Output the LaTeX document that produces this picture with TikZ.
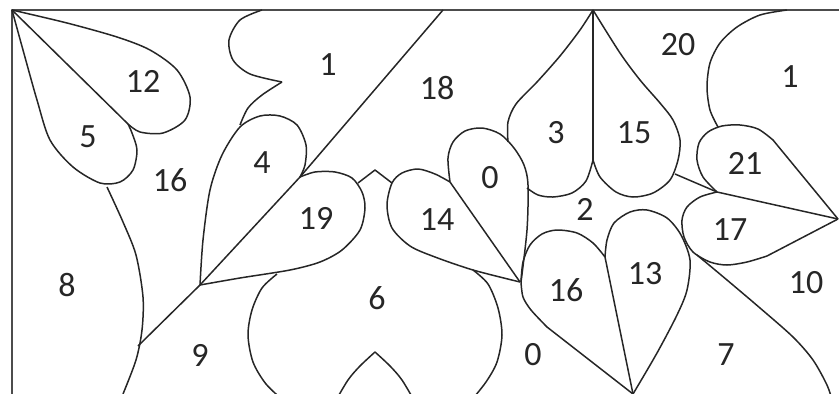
\documentclass[tikz,border=0pt]{standalone}
\usepackage{fontspec}
\setmainfont{Carlito}

\begin{document}
\begin{tikzpicture}[x=1pt,y=-1pt]
    \useasboundingbox (0,0) rectangle (839,394);
    \clip (0,0) rectangle (839,394);

    \begin{scope}[line width=1.5pt,color=black!85,line join=round]

        % frame
        \draw [line width=2pt,black!70] (839,10) -- (12,10) -- (12,394);

        % leaves 12 and 5 in the corner
        \draw (12,10) -- (128,124);
        \draw plot [smooth] coordinates {(12,10) (67,23) (117,37) (150,50) (177,70) (190,97) (185,120) (163,133) (140,132) (128,124)};
        \draw plot [smooth] coordinates {(12,10) (23,50) (37,100) (50,140) (73,167) (100,183) (120,182) (133,170) (137,150) (132,133) (128,124)};
        \draw plot [smooth] coordinates {(107,187) (123,222) (136,255) (143,297) (142,330) (136,360) (123,394)};

        % long diagonal
        \draw (138,346) -- (200,285) -- (300,177) -- (443,10);

        % leaf 4, shape 1
        \draw plot [smooth] coordinates {(200,285) (203,240) (210,190) (222,155) (240,127) (260,116) (280,116) (297,125) (306,145) (305,165) (300,177)};
        \draw plot [smooth] coordinates {(262,10) (240,20) (229,40) (233,60) (250,74) (282,82)};
        \draw plot [smooth] coordinates {(282,82) (262,95) (248,108) (240,125)};

        % leaf 19, zigzag, leaf 14
        \draw plot [smooth] coordinates {(300,177) (315,172) (335,172) (352,178) (362,192) (365,208) (360,230) (342,250) (320,262) (290,270) (240,278) (200,285)};
        \draw (358,183) -- (375,170) -- (392,183);
        \draw plot [smooth] coordinates {(450,182) (435,174) (418,169) (402,173) (392,183) (387,205) (392,228) (410,246) (435,257) (473,270) (520,282)};
        \draw (450,182) -- (520,282);

        % leaf 0 (top)
        \draw plot [smooth] coordinates {(450,182) (448,158) (453,142) (465,131) (482,128) (500,134) (514,148) (524,165) (528,185) (527,230) (521,282)};

        % leaves 3 and 15
        \draw plot [smooth] coordinates {(508,142) (508,122) (516,104) (537,82) (560,56) (580,30) (593,10)};
        \draw plot [smooth] coordinates {(527,188) (538,195) (553,197) (572,193) (586,181) (593,160)};
        \draw (593,10) -- (593,160);
        \draw plot [smooth] coordinates {(593,160) (600,177) (616,192) (633,197) (653,193) (670,180) (678,160) (680,140) (673,120) (660,103) (640,80) (620,53) (593,10)};
        \draw (675,174) -- (717,192);

        % leaves 21 and 17, shape 1 on the right
        \draw plot [smooth] coordinates {(717,192) (703,177) (697,160) (699,143) (708,132) (722,126) (740,125) (758,129) (773,140)} -- (838,219);
        \draw (717,192) -- (838,219);
        \draw plot [smooth] coordinates {(787,10) (760,15) (737,27) (720,43) (710,63) (707,87) (710,110) (718,127)};
        \draw plot [smooth] coordinates {(717,192) (700,197) (687,207) (682,220) (684,237) (693,252) (710,262) (727,265) (747,262) (767,256)} -- (838,219);
        \draw plot [smooth] coordinates {(697,255) (727,280) (760,308) (793,337) (813,360) (827,385) (832,400)};

        % leaves 13 and 16 (bottom)
        \draw plot [smooth] coordinates {(605,257) (607,240) (614,223) (630,212) (647,210) (667,218) (681,235) (690,260) (687,290) (677,315) (657,353) (633,394)};
        \draw (605,257) -- (633,394);
        \draw plot [smooth] coordinates {(521,282) (523,262) (530,245) (542,234) (557,230) (577,233) (593,243) (605,257)};
        \draw plot [smooth] coordinates {(521,282) (523,297) (531,310) (547,327)} -- (633,394);

        % leaf 6
        \draw plot [smooth] coordinates {(277,274) (262,288) (252,310) (248,335) (253,362) (266,384) (285,402)};
        \draw plot [smooth] coordinates {(375,352) (360,366) (348,380) (335,402)};
        \draw plot [smooth] coordinates {(375,352) (390,366) (402,380) (415,402)};
        \draw plot [smooth] coordinates {(473,270) (488,284) (498,308) (502,335) (497,362) (486,382) (470,402)};

    \end{scope}

    \begin{scope}[font=\fontsize{34}{40}\selectfont,text=black!85]
        \foreach \pos/\txt/\name in {%
            {143,81}/12/twelve, {88,137}/5/five, {170,180}/16/sixteenA,
            {328,65}/1/oneA, {437,88}/18/eighteen, {262,163}/4/four,
            {316,218}/19/nineteen, {437,220}/14/fourteen, {490,178}/0/zeroA,
            {556,133}/3/three, {634,133}/15/fifteen, {678,45}/20/twenty,
            {790,77}/1/oneB, {745,163}/21/twentyone, {585,209}/2/two,
            {730,230}/17/seventeen, {645,274}/13/thirteen, {566,290}/16/sixteenB,
            {806,283}/10/ten, {67,285}/8/eight, {377,298}/6/six,
            {200,355}/9/nine, {533,355}/0/zeroB, {726,355}/7/seven}{%
            \node (\name) at (\pos) {\txt};
        }
    \end{scope}

\end{tikzpicture}
\end{document}
